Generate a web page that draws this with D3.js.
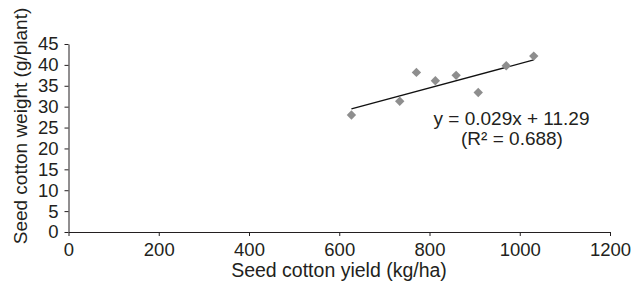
<!DOCTYPE html>
<html>
<head>
<meta charset="utf-8">
<script src="https://cdn.jsdelivr.net/npm/d3@7"></script>
<style>
  body { margin: 0; background: #fff; }
  text { font-family: "Liberation Sans", Arial, sans-serif; fill: #231f20; }
</style>
</head>
<body>
<div id="chart"></div>
<script>
// data
var yieldVals  = [627, 734, 771, 813, 859, 908, 970, 1031];   // kg/ha
var weightVals = [28.0, 31.3, 38.2, 36.2, 37.5, 33.4, 39.8, 42.1]; // g/plant
var xTicks = [0, 200, 400, 600, 800, 1000, 1200];
var yTicks = [0, 5, 10, 15, 20, 25, 30, 35, 40, 45];
var fitSlope = 0.029, fitIntercept = 11.29;
var eqLines = ["y = 0.029x + 11.29", "(R\u00b2 = 0.688)"];

// set the dimensions and margins of the graph
var margin = {top: 44, right: 24, bottom: 50, left: 68.5},
    width = 634 - margin.left - margin.right,
    height = 282 - margin.top - margin.bottom;

var svgRoot = d3.select("#chart")
  .append("svg")
    .attr("width", 634)
    .attr("height", 282);
var svg = svgRoot.append("g")
    .attr("transform", "translate(" + margin.left + "," + margin.top + ")");

var x = d3.scaleLinear().domain([0, 1200]).range([0, 541.5]);
var y = d3.scaleLinear().domain([0, 45]).range([188, 0]);

// axes
var xAxis = svg.append("g")
  .attr("transform", "translate(0," + y(0) + ")")
  .call(d3.axisBottom(x).tickValues(xTicks).tickFormat(d3.format("d")).tickSize(4).tickSizeOuter(0).tickPadding(7));
var yAxis = svg.append("g")
  .call(d3.axisLeft(y).tickValues(yTicks).tickFormat(d3.format("d")).tickSize(4).tickSizeOuter(0).tickPadding(6));

[xAxis, yAxis].forEach(function(a) {
  a.selectAll("path, line").attr("stroke", "#231f20").attr("stroke-width", 1);
  a.selectAll("text").style("font-size", "18.5px").style("font-family", "Liberation Sans, Arial, sans-serif").attr("fill", "#231f20");
});

// trend line over the data range
var xMin = d3.min(yieldVals), xMax = d3.max(yieldVals);
svg.append("line")
  .attr("x1", x(xMin)).attr("y1", y(fitSlope * xMin + fitIntercept))
  .attr("x2", x(xMax)).attr("y2", y(fitSlope * xMax + fitIntercept))
  .attr("stroke", "#111")
  .attr("stroke-width", 1.3);

// diamond markers
var pts = yieldVals.map(function(v, i) { return {x: v, y: weightVals[i]}; });
svg.selectAll("myPoints")
  .data(pts)
  .enter()
  .append("path")
    .attr("d", d3.symbol(d3.symbolSquare).size(44))
    .attr("transform", function(d) { return "translate(" + x(d.x) + "," + y(d.y) + ") rotate(45)"; })
    .attr("fill", "#8e8e8e");

// equation
svg.append("text")
  .attr("x", 443).attr("y", 81)
  .attr("text-anchor", "middle")
  .style("font-size", "19px")
  .text(eqLines[0]);
svg.append("text")
  .attr("x", 443.5).attr("y", 100.5)
  .attr("text-anchor", "middle")
  .style("font-size", "19px")
  .text(eqLines[1]);

// axis titles
svgRoot.append("text")
  .attr("x", 339).attr("y", 277)
  .attr("text-anchor", "middle")
  .style("font-size", "19.5px")
  .text("Seed cotton yield (kg/ha)");
svgRoot.append("text")
  .attr("transform", "translate(27,126) rotate(-90)")
  .attr("text-anchor", "middle")
  .style("font-size", "19px")
  .text("Seed cotton weight (g/plant)");
</script>
</body>
</html>
